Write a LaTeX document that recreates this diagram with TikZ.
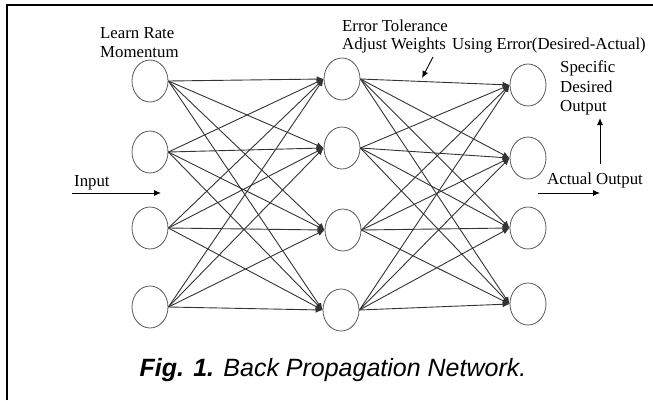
\documentclass[tikz,border=0pt]{standalone}
\usepackage{fontspec}
\setmainfont{Liberation Serif}
\newfontfamily\capfont{Liberation Sans}
\usetikzlibrary{shapes.geometric,arrows.meta}
\begin{document}
\begin{tikzpicture}[x=1pt,y=-1pt,
  neuron/.style={ellipse,draw=black!65,line width=0.8pt,minimum width=36pt,minimum height=42pt,inner sep=0pt},
  conn/.style={draw=black!80,line width=0.9pt,-{Latex[length=7pt,width=6pt]}},
  annot/.style={draw=black,line width=0.9pt,-{Latex[length=7pt,width=6pt]}},
  lbl/.style={anchor=base west,inner sep=0pt,font=\fontsize{16.8}{19.5}\selectfont},
  ]
\useasboundingbox (0,0) rectangle (653,400);
\draw[line width=2pt] (7,400) -- (7,4.5) -- (653,4.5);

% neurons
\node[neuron] (i1) at (150,81) {};
\node[neuron] (i2) at (150,152) {};
\node[neuron] (i3) at (150,228) {};
\node[neuron] (i4) at (150,307) {};
\node[neuron] (h1) at (342,79) {};
\node[neuron] (h2) at (342,148) {};
\node[neuron] (h3) at (343,230) {};
\node[neuron] (h4) at (341,310) {};
\node[neuron] (o1) at (528,85) {};
\node[neuron] (o2) at (528,158) {};
\node[neuron] (o3) at (528,228) {};
\node[neuron] (o4) at (528,304) {};

\foreach \i in {1,...,4}{
  \foreach \j in {1,...,4}{
    \draw[conn] (i\i.east) -- (h\j.west);
    \draw[conn] (h\i.east) -- (o\j.west);
  }
}

% labels
\node[lbl] (lr) at (100,38) {Learn Rate};
\node[lbl] (mo) at (100,57) {Momentum};
\node[lbl] (et) at (342,31) {Error Tolerance};
\node[lbl] (aw) at (342,49) {Adjust Weights};
\node[lbl] (ue) at (452,49) {Using Error(Desired-Actual)};
\node[lbl] (sp) at (560,72) {Specific};
\node[lbl] (de) at (560,92) {Desired};
\node[lbl] (ou) at (560,111) {Output};
\node[lbl] (ao) at (547,184) {Actual Output};
\node[lbl] (in) at (74,186) {Input};

% annotation arrows
\coordinate (inA) at (72,193);
\coordinate (inB) at (161,193);
\coordinate (aoA) at (538,193);
\coordinate (aoB) at (600,193);
\coordinate (upA) at (600,164);
\coordinate (upB) at (600,118);
\coordinate (erA) at (433,57);
\coordinate (erB) at (422,78);
\draw[annot] (inA) -- (inB);
\draw[annot] (aoA) -- (aoB);
\draw[annot] (upA) -- (upB);
\draw[annot] (erA) -- (erB);

% caption
\node[anchor=base,inner sep=0pt,font=\capfont\fontsize{25}{30}\selectfont] (cap) at (333,376)
  {\textbf{\textit{Fig. 1.}} \textit{Back Propagation Network.}};
\end{tikzpicture}
\end{document}
